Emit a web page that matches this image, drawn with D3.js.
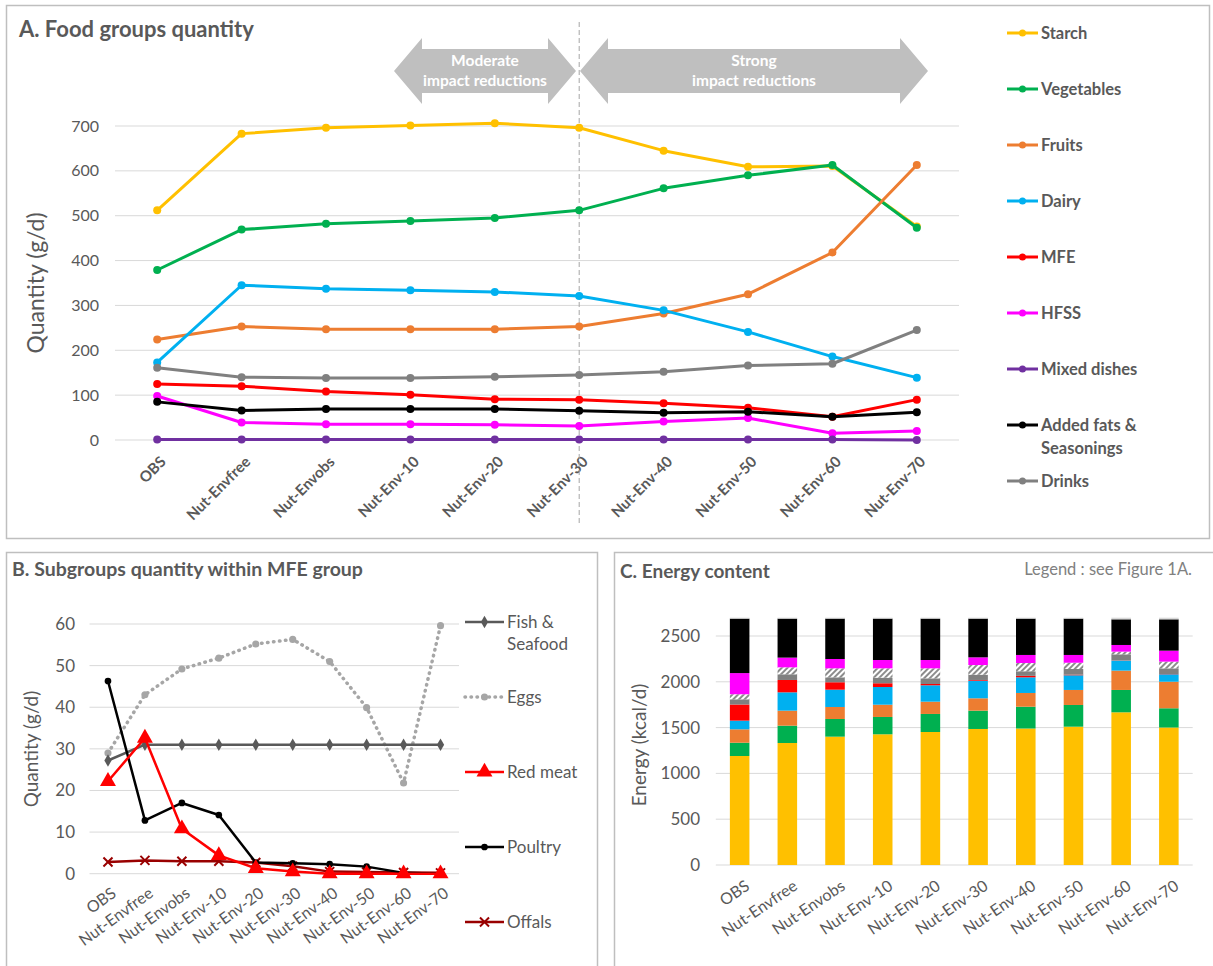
<!DOCTYPE html>
<html>
<head>
<meta charset="utf-8">
<script src="https://cdn.jsdelivr.net/npm/d3@7"></script>
<style>
  html, body { margin: 0; padding: 0; background: #fff; }
  svg { display: block; font-family: Lato, "Open Sans", sans-serif; }
</style>
</head>
<body>
<svg id="chart" width="1213" height="966"></svg>
<script>
// ---------- DATA ----------
const scenarios = ["OBS","Nut-Envfree","Nut-Envobs","Nut-Env-10","Nut-Env-20","Nut-Env-30","Nut-Env-40","Nut-Env-50","Nut-Env-60","Nut-Env-70"];

// Panel A: food group quantities (g/d)
const groupNames = ["Starch","Vegetables","Fruits","Dairy","MFE","HFSS","Mixed dishes","Added fats & Seasonings","Drinks"];
const groupColors = ["#FFC000","#00B050","#ED7D31","#00B0F0","#FF0000","#FF00FF","#7030A0","#000000","#808080"];
const starch     = [512, 683, 696, 701, 706, 696, 645, 609, 611, 476];
const vegetables = [379, 469, 482, 488, 495, 512, 561, 590, 613, 473];
const fruits     = [224, 253, 247, 247, 247, 253, 282, 325, 418, 613];
const dairy      = [173, 345, 337, 334, 330, 321, 289, 241, 186, 139];
const mfe        = [125, 120, 108, 101,  91,  90,  82,  72,  52,  90];
const hfss       = [ 98,  39,  35,  35,  34,  31,  41,  49,  15,  20];
const mixed      = [  1,   1,   1,   1,   1,   1,   1,   1,   1,   0];
const addedFats  = [ 85,  66,  69,  69,  69,  65,  61,  63,  52,  62];
const drinks     = [161, 140, 138, 138, 141, 145, 152, 166, 170, 245];
const groupSeries = [starch, vegetables, fruits, dairy, mfe, hfss, mixed, addedFats, drinks];
const yTicksA = [0,100,200,300,400,500,600,700];

// Panel B: MFE subgroups (g/d)
const subNames = ["Fish & Seafood","Eggs","Red meat","Poultry","Offals"];
const fishSeafood = [27.2, 31, 31, 31, 31, 31, 31, 31, 31, 31];
const eggs        = [29, 43, 49.2, 51.8, 55.2, 56.3, 51, 39.9, 21.8, 59.6];
const redMeat     = [22.2, 32.6, 10.8, 4.4, 1.3, 0.5, 0, 0, 0, 0];
const poultry     = [46.3, 12.8, 17, 14.1, 2.7, 2.5, 2.3, 1.7, 0.2, 0];
const offals      = [2.8, 3.2, 3.0, 3.0, 2.7, 1.8, 0.5, 0.4, 0.3, 0.2];
const subSeries = [fishSeafood, eggs, redMeat, poultry, offals];
const yTicksB = [0,10,20,30,40,50,60];

// Panel C: energy content (kcal/d), stacked from bottom
const energyKeys = ["Starch","Vegetables","Fruits","Dairy","MFE","Drinks","Mixed dishes","HFSS","Added fats & Seasonings","Other"];
const eStarch = [1190, 1332, 1401, 1427, 1452, 1485, 1490, 1510, 1667, 1501];
const eVeg    = [ 145,  189,  193,  189,  197,  200,  238,  237,  244,  210];
const eFruits = [ 146,  164,  131,  134,  134,  135,  150,  164,  211,  290];
const eDairy  = [  95,  200,  189,  193,  179,  192,  171,  160,  109,   81];
const eMFE    = [ 176,  135,   81,   41,   14,    8,   16,    7,    2,    3];
const eDrinks = [  57,   62,   54,   61,   62,   58,   50,   62,   67,   62];
const eMixed  = [  55,   76,   98,  102,  109,  105,   90,   68,   29,   73];
const eHFSS   = [ 231,  106,  102,   91,   91,   84,   88,   85,   73,  120];
const eFats   = [ 595,  426,  441,  452,  452,  423,  397,  397,  280,  342];
const eOther  = [  10,   10,   10,   10,   10,   10,   10,   10,   18,   18];
const energySeries = [eStarch, eVeg, eFruits, eDairy, eMFE, eDrinks, eMixed, eHFSS, eFats, eOther];
const energyFills = ["#FFC000","#00B050","#ED7D31","#00B0F0","#FF0000","#808080","url(#hatch)","#FF00FF","#000000","#D9D9D9"];
const yTicksC = [0,500,1000,1500,2000,2500];

// ---------- DRAW ----------
const svg = d3.select("#chart");
const TXT = "#595959";
const GRID = "#D9D9D9";

const defs = svg.append("defs");
const pat = defs.append("pattern").attr("id","hatch").attr("patternUnits","userSpaceOnUse")
  .attr("width",4).attr("height",4).attr("patternTransform","rotate(45)");
pat.append("rect").attr("width",4).attr("height",4).attr("fill","#ffffff");
pat.append("rect").attr("width",2).attr("height",4).attr("fill","#8c8c8c");

// panel boxes
svg.append("rect").attr("x",6.5).attr("y",5.5).attr("width",1203).attr("height",533).attr("fill","none").attr("stroke","#BFBFBF").attr("stroke-width",1.5);
svg.append("rect").attr("x",6.5).attr("y",552.5).attr("width",591).attr("height",430).attr("fill","none").attr("stroke","#BFBFBF").attr("stroke-width",1.5);
svg.append("rect").attr("x",614.5).attr("y",552.5).attr("width",610).attr("height",430).attr("fill","none").attr("stroke","#BFBFBF").attr("stroke-width",1.5);

function styleAxis(g){
  g.select(".domain").remove();
  g.selectAll(".tick line").remove();
  g.selectAll("text").attr("fill",TXT).style("font-family","Lato, sans-serif");
}

// ===== Panel A =====
(function(){
  const x = d3.scaleBand().domain(scenarios).range([115, 959]);
  const y = d3.scaleLinear().domain([0,700]).range([440,126]);
  const cx = d => x(d) + x.bandwidth()/2;
  const g = svg.append("g");

  g.append("text").attr("x",19).attr("y",37).text("A. Food groups quantity")
    .attr("font-size",22).attr("font-weight","bold").attr("fill",TXT);

  g.selectAll("line.grid").data(yTicksA).join("line").attr("class","grid")
    .attr("x1",115).attr("x2",959).attr("y1",d=>y(d)).attr("y2",d=>y(d))
    .attr("stroke",GRID).attr("stroke-width",1);

  const ya = g.append("g").attr("transform","translate(99,0)")
    .call(d3.axisLeft(y).tickValues(yTicksA).tickSize(0).tickPadding(0));
  styleAxis(ya);
  ya.selectAll("text").attr("font-size",16);

  g.append("text").attr("transform","translate(44,283) rotate(-90)").attr("text-anchor","middle")
    .attr("font-size",23).attr("fill",TXT).text("Quantity (g/d)");

  const xa = g.append("g").attr("transform","translate(0,455)")
    .call(d3.axisBottom(x).tickSize(0).tickPadding(0));
  styleAxis(xa);
  xa.selectAll("text").attr("font-size",15).attr("font-weight","bold")
    .attr("text-anchor","end").attr("dy","0.35em").attr("y",0)
    .attr("transform","translate(6,4) rotate(-45)");

  // dashed separator at Nut-Env-30
  g.append("line").attr("x1",cx("Nut-Env-30")).attr("x2",cx("Nut-Env-30"))
    .attr("y1",22).attr("y2",524).attr("stroke","#A6A6A6").attr("stroke-width",1).attr("stroke-dasharray","5,3");

  // double arrows
  function dblArrow(x0, x1, lines){
    const yt=38, yb=104, st=49, sb=93, hw=28, ym=(yt+yb)/2;
    const p = `M${x0},${ym} L${x0+hw},${yt} L${x0+hw},${st} L${x1-hw},${st} L${x1-hw},${yt} L${x1},${ym} L${x1-hw},${yb} L${x1-hw},${sb} L${x0+hw},${sb} L${x0+hw},${yb} Z`;
    g.append("path").attr("d",p).attr("fill","#BFBFBF");
    lines.forEach((t,i)=>g.append("text").attr("x",(x0+x1)/2).attr("y",66+i*20)
      .attr("text-anchor","middle").attr("font-size",15.5).attr("font-weight","bold").attr("fill","#fff").text(t));
  }
  dblArrow(394, 576, ["Moderate","impact reductions"]);
  dblArrow(580, 928, ["Strong","impact reductions"]);

  const line = d3.line().x((d,i)=>cx(scenarios[i])).y(d=>y(d));
  groupSeries.forEach((s,k)=>{
    g.append("path").datum(s).attr("d",line).attr("fill","none")
      .attr("stroke",groupColors[k]).attr("stroke-width",3).attr("stroke-linejoin","round");
    g.selectAll(null).data(s).join("circle").attr("cx",(d,i)=>cx(scenarios[i])).attr("cy",d=>y(d))
      .attr("r",4).attr("fill",groupColors[k]);
  });

  // legend
  const lg = g.append("g");
  groupNames.forEach((n,i)=>{
    const yy = 33 + i*56;
    lg.append("line").attr("x1",1007).attr("x2",1038).attr("y1",yy).attr("y2",yy)
      .attr("stroke",groupColors[i]).attr("stroke-width",3);
    lg.append("circle").attr("cx",1022.5).attr("cy",yy).attr("r",3.5).attr("fill",groupColors[i]);
    const parts = n === "Added fats & Seasonings" ? ["Added fats &","Seasonings"] : [n];
    parts.forEach((p,j)=>lg.append("text").attr("x",1041).attr("y",yy+j*23).attr("dy","0.35em")
      .attr("font-size",16.5).attr("font-weight","bold").attr("fill",TXT).text(p));
  });
})();

// ===== Panel B =====
(function(){
  const x = d3.scaleBand().domain(scenarios).range([89.5, 459]);
  const y = d3.scaleLinear().domain([0,60]).range([873.7,624]);
  const cx = d => x(d) + x.bandwidth()/2;
  const g = svg.append("g");
  const colors = ["#595959","#A6A6A6","#FF0000","#000000","#990000"];
  const symbols = [d3.symbolDiamond, d3.symbolCircle, d3.symbolTriangle, d3.symbolCircle, d3.symbolX];
  const symSize = [45, 40, 110, 35, 55];

  g.append("text").attr("x",12).attr("y",576).text("B. Subgroups quantity within MFE group")
    .attr("font-size",19.5).attr("font-weight","bold").attr("fill",TXT);

  g.selectAll("line.grid").data(yTicksB).join("line")
    .attr("x1",89.5).attr("x2",459).attr("y1",d=>y(d)).attr("y2",d=>y(d))
    .attr("stroke",GRID).attr("stroke-width",1);

  const ya = g.append("g").attr("transform","translate(75,0)")
    .call(d3.axisLeft(y).tickValues(yTicksB).tickSize(0).tickPadding(0));
  styleAxis(ya);
  ya.selectAll("text").attr("font-size",17);

  g.append("text").attr("transform","translate(38,749) rotate(-90)").attr("text-anchor","middle")
    .attr("font-size",19).attr("fill",TXT).text("Quantity (g/d)");

  const xa = g.append("g").attr("transform","translate(0,891)")
    .call(d3.axisBottom(x).tickSize(0).tickPadding(0));
  styleAxis(xa);
  xa.selectAll("text").attr("font-size",16).attr("text-anchor","end").attr("dy","0.35em").attr("y",0)
    .attr("transform","translate(6,0) rotate(-36)");

  const line = d3.line().x((d,i)=>cx(scenarios[i])).y(d=>y(d));
  const drawOrder = [1,0,4,3,2];
  drawOrder.forEach(k=>{
    const s = subSeries[k];
    const p = g.append("path").datum(s).attr("d",line).attr("fill","none")
      .attr("stroke",colors[k]).attr("stroke-width", k===1?3.5:2.5).attr("stroke-linejoin","round");
    if(k===1) p.attr("stroke-dasharray","0.5,5.5").attr("stroke-linecap","round");
    g.selectAll(null).data(s).join("path")
      .attr("transform",(d,i)=>`translate(${cx(scenarios[i])},${y(d)})`)
      .attr("d",d3.symbol().type(symbols[k]).size(symSize[k]))
      .attr("fill",colors[k]).attr("stroke",colors[k]).attr("stroke-width",k===4?2:0);
  });

  // legend
  const ly = [622, 697, 772, 847, 922];
  subNames.forEach((n,i)=>{
    const yy = ly[i];
    const l = g.append("line").attr("x1",465).attr("x2",504).attr("y1",yy).attr("y2",yy)
      .attr("stroke",colors[i]).attr("stroke-width",i===1?3.5:2.5);
    if(i===1) l.attr("stroke-dasharray","0.5,5.5").attr("stroke-linecap","round");
    g.append("path").attr("transform",`translate(484.5,${yy})`)
      .attr("d",d3.symbol().type(symbols[i]).size(symSize[i]))
      .attr("fill",colors[i]).attr("stroke",colors[i]).attr("stroke-width",i===4?2:0);
    const parts = n === "Fish & Seafood" ? ["Fish &","Seafood"] : [n];
    parts.forEach((p,j)=>g.append("text").attr("x",507).attr("y",yy+j*22).attr("dy","0.35em")
      .attr("font-size",17).attr("fill",TXT).text(p));
  });
})();

// ===== Panel C =====
(function(){
  const x = d3.scaleBand().domain(scenarios).range([715.8, 1192.7]).paddingInner(0.59).paddingOuter(0.295);
  const y = d3.scaleLinear().domain([0,2500]).range([865,636]);
  const g = svg.append("g");

  g.append("text").attr("x",620).attr("y",578).text("C. Energy content")
    .attr("font-size",19).attr("font-weight","bold").attr("fill",TXT);
  g.append("text").attr("x",1192).attr("y",575).attr("text-anchor","end").text("Legend : see Figure 1A.")
    .attr("font-size",16.5).attr("fill","#808080");

  g.selectAll("line.grid").data(yTicksC).join("line")
    .attr("x1",715.8).attr("x2",1192.7).attr("y1",d=>y(d)).attr("y2",d=>y(d))
    .attr("stroke",GRID).attr("stroke-width",1);

  const ya = g.append("g").attr("transform","translate(700,0)")
    .call(d3.axisLeft(y).tickValues(yTicksC).tickFormat(d3.format("d")).tickSize(0).tickPadding(0));
  styleAxis(ya);
  ya.selectAll("text").attr("font-size",17);

  g.append("text").attr("transform","translate(646,745) rotate(-90)").attr("text-anchor","middle")
    .attr("font-size",19).attr("fill",TXT).text("Energy (kcal/d)");

  const rows = scenarios.map((s,i)=>{
    const o = {scenario:s};
    energyKeys.forEach((k,j)=>o[k]=energySeries[j][i]);
    return o;
  });
  const stacked = d3.stack().keys(energyKeys)(rows);
  stacked.forEach((layer,j)=>{
    g.selectAll(null).data(layer).join("rect")
      .attr("x",d=>x(d.data.scenario)).attr("width",x.bandwidth())
      .attr("y",d=>y(d[1])).attr("height",d=>Math.max(0,y(d[0])-y(d[1])))
      .attr("fill",energyFills[j]);
  });

  const xa = g.append("g").attr("transform","translate(0,884)")
    .call(d3.axisBottom(x).tickSize(0).tickPadding(0));
  styleAxis(xa);
  xa.selectAll("text").attr("font-size",16).attr("text-anchor","end").attr("dy","0.35em").attr("y",0)
    .attr("transform","translate(8,0) rotate(-34)");
})();
</script>
</body>
</html>
